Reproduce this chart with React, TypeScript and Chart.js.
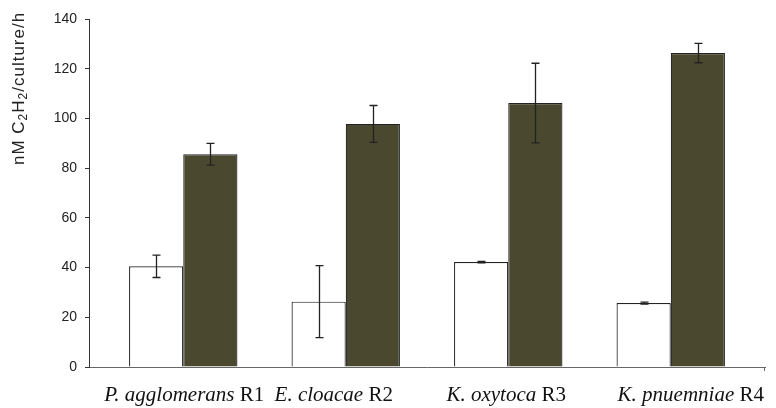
import React, { useEffect, useRef } from "react";
import { Chart, registerables } from "chart.js";

Chart.register(...registerables);

const species = ["P. agglomerans", "E. cloacae", "K. oxytoca", "K. pnuemniae"];
const strains = ["R1", "R2", "R3", "R4"];
const controlValues = [40.5, 26.3, 42.2, 25.7];
const controlErrors = [4.5, 14.5, 0.3, 0.4];
const treatedValues = [85.6, 97.8, 106.2, 126.3];
const treatedErrors = [4.4, 7.4, 16.0, 3.9];
const yTicks = [0, 20, 40, 60, 80, 100, 120, 140];
const errorsByDataset = [controlErrors, treatedErrors];

const errorBarPlugin = {
  id: "errorBars",
  afterDatasetsDraw(chart: any) {
    const ctx = chart.ctx;
    const y = chart.scales.y;
    ctx.save();
    ctx.strokeStyle = "#222";
    ctx.lineWidth = 1.3;
    chart.data.datasets.forEach((ds: any, d: number) => {
      const meta = chart.getDatasetMeta(d);
      meta.data.forEach((bar: any, i: number) => {
        const v = ds.data[i].y;
        const e = errorsByDataset[d][i];
        const x = Math.round(bar.x) + 0.5;
        const yt = y.getPixelForValue(v + e);
        const yb = y.getPixelForValue(v - e);
        ctx.beginPath();
        ctx.moveTo(x, yt);
        ctx.lineTo(x, yb);
        ctx.moveTo(x - 4, yt);
        ctx.lineTo(x + 4, yt);
        ctx.moveTo(x - 4, yb);
        ctx.lineTo(x + 4, yb);
        ctx.stroke();
      });
    });
    ctx.restore();
  },
};

const LABEL_SHIFT = [1, -12, -2, 20];

const textPlugin = {
  id: "texts",
  afterDraw(chart: any) {
    const ctx = chart.ctx;
    const xs = chart.scales.x;
    const area = chart.chartArea;
    ctx.save();
    ctx.strokeStyle = "#666";
    ctx.lineWidth = 1;
    ctx.beginPath();
    ctx.moveTo(Math.round(area.right) - 0.5, area.bottom);
    ctx.lineTo(Math.round(area.right) - 0.5, area.bottom + 4);
    ctx.stroke();

    ctx.fillStyle = "#111";
    ctx.textBaseline = "alphabetic";
    ctx.textAlign = "left";
    const italic = "italic 21px 'Liberation Serif'";
    const roman = "21px 'Liberation Serif'";
    species.forEach((sp, i) => {
      ctx.font = italic;
      const w1 = ctx.measureText(sp).width;
      ctx.font = roman;
      const w2 = ctx.measureText(" " + strains[i]).width;
      const cx = xs.getPixelForValue(i) + LABEL_SHIFT[i];
      const x0 = cx - (w1 + w2) / 2;
      ctx.font = italic;
      ctx.fillText(sp, x0, 401);
      ctx.font = roman;
      ctx.fillText(" " + strains[i], x0 + w1, 401);
    });

    ctx.translate(24, 165);
    ctx.rotate(-Math.PI / 2);
    ctx.fillStyle = "#222";
    try {
      (ctx as any).letterSpacing = "1px";
    } catch (e) {}
    const main = "17px 'Liberation Sans'";
    const sub = "12px 'Liberation Sans'";
    const parts: [string, boolean][] = [
      ["nM C", false],
      ["2", true],
      ["H", false],
      ["2", true],
      ["/culture/h", false],
    ];
    let px = 0;
    parts.forEach(([t, isSub]) => {
      ctx.font = isSub ? sub : main;
      ctx.fillText(t, px, isSub ? 3 : 0);
      px += ctx.measureText(t).width;
    });
    ctx.restore();
  },
};

export default function App() {
  const ref = useRef<HTMLCanvasElement>(null);
  useEffect(() => {
    if (!ref.current) return;
    const chart = new Chart(ref.current, {
      type: "bar",
      data: {
        datasets: [
          {
            label: "control",
            data: controlValues.map((v, i) => ({ x: i, y: v })),
            backgroundColor: "#ffffff",
            borderColor: "#222222",
            borderWidth: 1.2,
            categoryPercentage: 0.667,
            barPercentage: 1,
          },
          {
            label: "treated",
            data: treatedValues.map((v, i) => ({ x: i, y: v })),
            backgroundColor: "#4a482e",
            borderColor: "#222222",
            borderWidth: 1.2,
            categoryPercentage: 0.667,
            barPercentage: 1,
          },
        ],
      },
      options: {
        responsive: false,
        animation: false,
        devicePixelRatio: 1,
        layout: { padding: { top: 19, right: 11, left: 0, bottom: 0 } },
        plugins: { legend: { display: false }, tooltip: { enabled: false } },
        scales: {
          x: {
            type: "linear",
            min: -0.58,
            max: 3.58,
            offset: false,
            afterBuildTicks: (s: any) => {
              s.ticks = species.map((_, i) => ({ value: i }));
            },
            ticks: { display: false },
            grid: { display: false, offset: false },
            border: { display: true, color: "#666", width: 1 },
            afterFit: (s: any) => {
              s.height = 41;
            },
          },
          y: {
            min: 0,
            max: 140,
            afterBuildTicks: (s: any) => {
              s.ticks = yTicks.map((v) => ({ value: v }));
            },
            ticks: {
              color: "#222",
              font: { family: "'Liberation Sans'", size: 14 },
              padding: 8,
            },
            grid: {
              drawOnChartArea: false,
              drawTicks: true,
              tickLength: 4,
              color: "#333",
            },
            border: { display: true, color: "#333", width: 1 },
            afterFit: (s: any) => {
              s.width = 89;
            },
          },
        },
      },
      plugins: [errorBarPlugin, textPlugin],
    });
    return () => chart.destroy();
  }, []);
  return (
    <div style={{ position: "absolute", left: 0, top: 0, width: 776, height: 408, background: "#fff" }}>
      <canvas ref={ref} width={776} height={408} style={{ display: "block" }} />
    </div>
  );
}
